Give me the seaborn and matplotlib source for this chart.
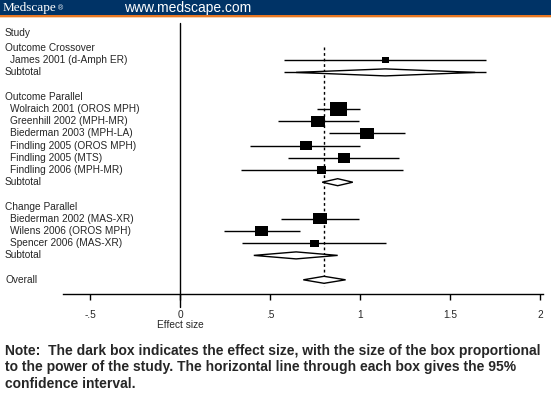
import numpy as np
import pandas as pd
import matplotlib
matplotlib.use("Agg")
import matplotlib.pyplot as plt
from matplotlib.patches import Rectangle, Polygon
from matplotlib.path import Path
import seaborn as sns

# ---------------- data ----------------
groups = ["Outcome Crossover", "Outcome Parallel", "Change Parallel"]
studies = ["James 2001 (d-Amph ER)",
           "Wolraich 2001 (OROS MPH)", "Greenhill 2002 (MPH-MR)", "Biederman 2003 (MPH-LA)",
           "Findling 2005 (OROS MPH)", "Findling 2005 (MTS)", "Findling 2006 (MPH-MR)",
           "Biederman 2002 (MAS-XR)", "Wilens 2006 (OROS MPH)", "Spencer 2006 (MAS-XR)"]
study_group = ["Outcome Crossover",
               "Outcome Parallel", "Outcome Parallel", "Outcome Parallel",
               "Outcome Parallel", "Outcome Parallel", "Outcome Parallel",
               "Change Parallel", "Change Parallel", "Change Parallel"]
effect = [1.14, 0.88, 0.767, 1.04, 0.70, 0.91, 0.785, 0.78, 0.455, 0.746]
ci_low = [0.58, 0.76, 0.546, 0.83, 0.39, 0.60, 0.34, 0.56, 0.245, 0.345]
ci_high = [1.70, 1.00, 0.995, 1.25, 1.00, 1.215, 1.24, 0.995, 0.665, 1.145]
weights = [3.2, 18.7, 12.7, 12.7, 9.3, 9.3, 5.2, 12.7, 10.9, 5.2]

subtotal_est = [1.14, 0.876, 0.645]
subtotal_low = [0.645, 0.79, 0.41]
subtotal_high = [1.64, 0.96, 0.876]
subtotal_line_low = [0.58, None, None]
subtotal_line_high = [1.70, None, None]

overall_est = 0.80
overall_low = 0.685
overall_high = 0.92

xticks = [-0.5, 0, 0.5, 1, 1.5, 2]
xtick_labels = ["-.5", "0", ".5", "1", "1.5", "2"]
x_label = "Effect size"
note_lines = ["Note:  The dark box indicates the effect size, with the size of the box proportional",
              "to the power of the study. The horizontal line through each box gives the 95%",
              "confidence interval."]

# ---------------- layout ----------------
W, H = 551, 400
sns.set_theme(style="white")
plt.rcParams["font.family"] = ["Liberation Sans", "DejaVu Sans"]

fig = plt.figure(figsize=(W / 100, H / 100), dpi=100)
fig.patch.set_facecolor("white")

# header
fig.patches.append(Rectangle((0, 1 - 15 / H), 1, 15 / H, transform=fig.transFigure,
                             facecolor="#003366", edgecolor="none", zorder=0))
fig.patches.append(Rectangle((0, 1 - 17 / H), 1, 2 / H, transform=fig.transFigure,
                             facecolor="#E87722", edgecolor="none", zorder=0))
fig.patches.append(Rectangle((0, 1 - 18 / H), 1, 1 / H, transform=fig.transFigure,
                             facecolor="#F6D2B0", edgecolor="none", zorder=0))
fig.text(3 / W, 1 - 8 / H, "Medscape", family="Liberation Serif", fontsize=9.5,
         color="white", va="center", ha="left")
fig.text(58 / W, 1 - 8.5 / H, "®", fontsize=5, color="white", va="center", ha="left")
fig.text(124 / W, 1 - 8 / H, "www.medscape.com", fontsize=10, color="white",
         va="center", ha="left")

ax_top_px, ax_bot_px = 20, 294
ax = fig.add_axes([0, (H - ax_bot_px) / H, 1, (ax_bot_px - ax_top_px) / H])
ax.set_facecolor("none")
x0_px, unit_px = 180, 180
ax.set_xlim((0 - x0_px) / unit_px, (W - x0_px) / unit_px)
ax.set_ylim(ax_bot_px, ax_top_px)


def row_y(r):
    return 48 + 12.2 * r


# rows
rows = []  # (label, indent, kind, idx)
for g in groups:
    rows.append((g, False, "header", None))
    for i, s in enumerate(studies):
        if study_group[i] == g:
            rows.append((s, True, "study", i))
    rows.append(("Subtotal", False, "subtotal", groups.index(g)))
    rows.append(("", False, "blank", None))
rows.append(("Overall", False, "overall", None))

label_x = (5 - x0_px) / unit_px
indent_x = (10 - x0_px) / unit_px
fs = 7.3
ax.text(label_x, 33, "Study", fontsize=fs, va="center", ha="left", clip_on=False)

study_y = {}
for r, (lab, ind, kind, idx) in enumerate(rows):
    y = row_y(r)
    if lab:
        ax.text(indent_x if ind else label_x, y, lab, fontsize=fs, va="center",
                ha="left", clip_on=False)
    if kind == "study":
        study_y[idx] = y
    elif kind in ("subtotal", "overall"):
        if kind == "subtotal":
            est, lo, hi = subtotal_est[idx], subtotal_low[idx], subtotal_high[idx]
            if subtotal_line_low[idx] is not None:
                ax.hlines(y, subtotal_line_low[idx], subtotal_line_high[idx],
                          color="black", lw=1.0, zorder=2)
        else:
            est, lo, hi = overall_est, overall_low, overall_high
        hh = 3.5
        ax.add_patch(Polygon([(lo, y), (est, y - hh), (hi, y), (est, y + hh)],
                             closed=True, facecolor="white", edgecolor="black",
                             lw=1.0, zorder=3))

df = pd.DataFrame({"study": studies, "effect": effect, "low": ci_low,
                   "high": ci_high, "weight": weights})
df["y"] = [study_y[i] for i in range(len(studies))]

# CI lines
ax.hlines(df["y"], df["low"], df["high"], color="black", lw=1.0, zorder=2)

# boxes
box = Path([(-1, -0.8), (1, -0.8), (1, 0.8), (-1, 0.8), (-1, -0.8)],
           [Path.MOVETO, Path.LINETO, Path.LINETO, Path.LINETO, Path.CLOSEPOLY])
c = 8.0
sns.scatterplot(data=df, x="effect", y="y", size="weight",
                sizes=(c * min(weights), c * max(weights)), marker=box,
                color="black", linewidth=0, legend=False, ax=ax, zorder=4)

# reference lines
ax.plot([0, 0], [23, 307], color="black", lw=1.0, clip_on=False, zorder=1)
ax.plot([overall_est, overall_est], [47, 286], color="black", lw=1.0,
        ls=(0, (2, 2)), zorder=1)

# axis
for s in ["left", "top", "right"]:
    ax.spines[s].set_visible(False)
ax.spines["bottom"].set_visible(True)
ax.spines["bottom"].set_color("black")
ax.spines["bottom"].set_linewidth(1.0)
ax.spines["bottom"].set_bounds(-0.65, 2.017)
ax.set_yticks([])
ax.set_xticks(xticks)
ax.set_xticklabels(xtick_labels, fontsize=fs)
ax.tick_params(axis="x", direction="out", length=4.5, width=1.0, color="black",
               pad=7, bottom=True)
ax.set_xlabel("")
ax.set_ylabel("")
ax.text(0, 325, x_label, fontsize=fs, ha="center", va="center", clip_on=False)

# note
for k, line in enumerate(note_lines):
    fig.text(5 / W, 1 - (351 + 16.5 * k) / H, line, fontsize=10, fontweight="bold",
             va="center", ha="left")

fig.savefig("out.png", dpi=100)
